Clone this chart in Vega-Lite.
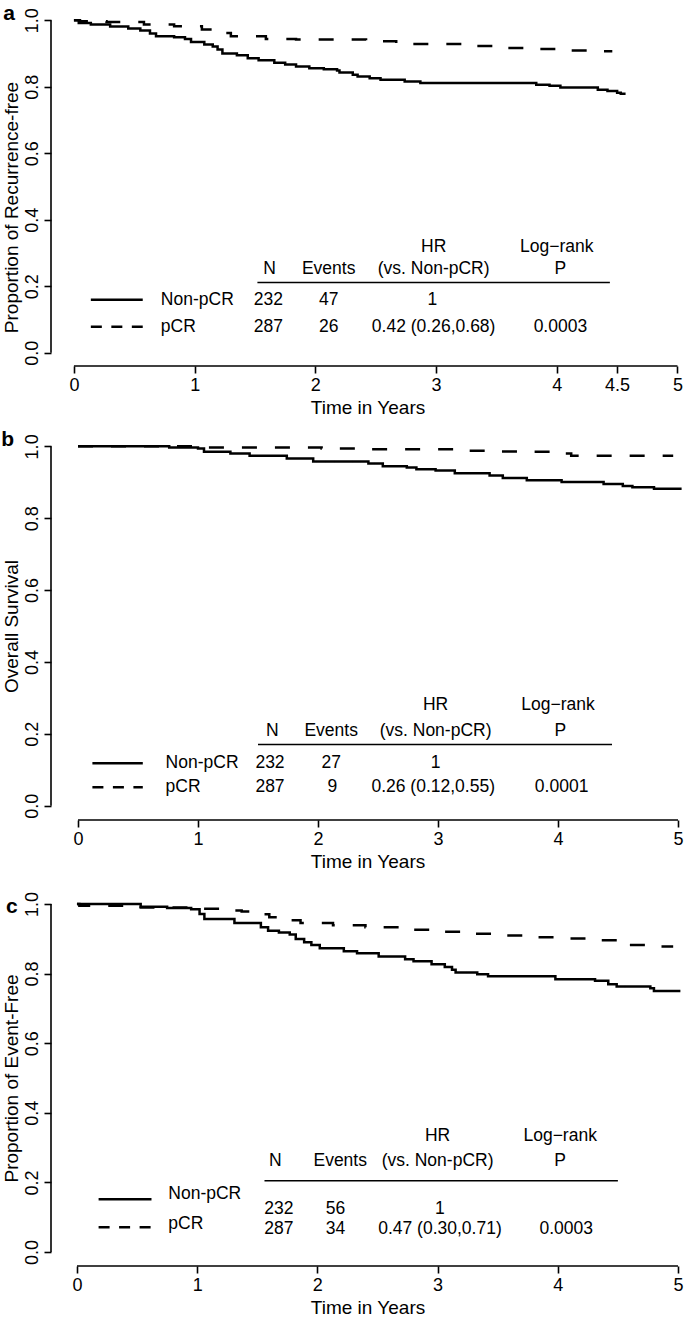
{
  "$schema": "https://vega.github.io/schema/vega-lite/v6.json",
  "padding": {"left": 1, "top": 3, "right": 0, "bottom": 0},
  "config": {
    "view": {"stroke": null},
    "font": "Liberation Sans",
    "text": {"fontSize": 17.5, "color": "black"},
    "axis": {"domain": false, "grid": false, "tickColor": "black", "tickWidth": 1.6, "tickSize": 7, "labelColor": "black", "labelFontSize": 18, "labelPadding": 3, "titleFontSize": 19, "titleFontWeight": "normal", "titleColor": "black"},
    "axisY": {"labelAngle": -90, "labelAlign": "center", "labelBaseline": "bottom", "titlePadding": 1.5},
    "axisX": {"titlePadding": 4}
  },
  "datasets": {
    "km": [
      {"panel":"a","group":"Non-pCR","t":0,"s":1.0},{"panel":"a","group":"Non-pCR","t":0.04,"s":0.992},{"panel":"a","group":"Non-pCR","t":0.14,"s":0.987},{"panel":"a","group":"Non-pCR","t":0.30,"s":0.981},{"panel":"a","group":"Non-pCR","t":0.45,"s":0.975},{"panel":"a","group":"Non-pCR","t":0.55,"s":0.969},{"panel":"a","group":"Non-pCR","t":0.63,"s":0.960},{"panel":"a","group":"Non-pCR","t":0.68,"s":0.952},{"panel":"a","group":"Non-pCR","t":0.83,"s":0.949},{"panel":"a","group":"Non-pCR","t":0.92,"s":0.944},{"panel":"a","group":"Non-pCR","t":0.97,"s":0.935},{"panel":"a","group":"Non-pCR","t":1.08,"s":0.927},{"panel":"a","group":"Non-pCR","t":1.15,"s":0.921},{"panel":"a","group":"Non-pCR","t":1.19,"s":0.912},{"panel":"a","group":"Non-pCR","t":1.23,"s":0.900},{"panel":"a","group":"Non-pCR","t":1.35,"s":0.895},{"panel":"a","group":"Non-pCR","t":1.44,"s":0.886},{"panel":"a","group":"Non-pCR","t":1.53,"s":0.880},{"panel":"a","group":"Non-pCR","t":1.66,"s":0.872},{"panel":"a","group":"Non-pCR","t":1.75,"s":0.867},{"panel":"a","group":"Non-pCR","t":1.84,"s":0.861},{"panel":"a","group":"Non-pCR","t":1.95,"s":0.856},{"panel":"a","group":"Non-pCR","t":2.07,"s":0.853},{"panel":"a","group":"Non-pCR","t":2.18,"s":0.849},{"panel":"a","group":"Non-pCR","t":2.20,"s":0.843},{"panel":"a","group":"Non-pCR","t":2.31,"s":0.836},{"panel":"a","group":"Non-pCR","t":2.35,"s":0.831},{"panel":"a","group":"Non-pCR","t":2.45,"s":0.826},{"panel":"a","group":"Non-pCR","t":2.54,"s":0.821},{"panel":"a","group":"Non-pCR","t":2.74,"s":0.816},{"panel":"a","group":"Non-pCR","t":2.87,"s":0.811},{"panel":"a","group":"Non-pCR","t":3.83,"s":0.806},{"panel":"a","group":"Non-pCR","t":3.94,"s":0.803},{"panel":"a","group":"Non-pCR","t":4.03,"s":0.798},{"panel":"a","group":"Non-pCR","t":4.34,"s":0.791},{"panel":"a","group":"Non-pCR","t":4.42,"s":0.787},{"panel":"a","group":"Non-pCR","t":4.50,"s":0.782},{"panel":"a","group":"Non-pCR","t":4.53,"s":0.779},{"panel":"a","group":"Non-pCR","t":4.57,"s":0.779},
      {"panel":"a","group":"pCR","t":0,"s":1.0},{"panel":"a","group":"pCR","t":0.05,"s":0.997},{"panel":"a","group":"pCR","t":0.27,"s":0.995},{"panel":"a","group":"pCR","t":0.58,"s":0.987},{"panel":"a","group":"pCR","t":0.83,"s":0.982},{"panel":"a","group":"pCR","t":1.06,"s":0.972},{"panel":"a","group":"pCR","t":1.15,"s":0.962},{"panel":"a","group":"pCR","t":1.30,"s":0.952},{"panel":"a","group":"pCR","t":1.59,"s":0.944},{"panel":"a","group":"pCR","t":1.84,"s":0.942},{"panel":"a","group":"pCR","t":2.42,"s":0.937},{"panel":"a","group":"pCR","t":2.67,"s":0.929},{"panel":"a","group":"pCR","t":3.23,"s":0.923},{"panel":"a","group":"pCR","t":3.50,"s":0.917},{"panel":"a","group":"pCR","t":3.75,"s":0.914},{"panel":"a","group":"pCR","t":4.05,"s":0.909},{"panel":"a","group":"pCR","t":4.30,"s":0.907},{"panel":"a","group":"pCR","t":4.46,"s":0.907},
      {"panel":"b","group":"Non-pCR","t":0,"s":1.0},{"panel":"b","group":"Non-pCR","t":0.76,"s":0.997},{"panel":"b","group":"Non-pCR","t":1.00,"s":0.994},{"panel":"b","group":"Non-pCR","t":1.05,"s":0.985},{"panel":"b","group":"Non-pCR","t":1.27,"s":0.980},{"panel":"b","group":"Non-pCR","t":1.43,"s":0.974},{"panel":"b","group":"Non-pCR","t":1.74,"s":0.966},{"panel":"b","group":"Non-pCR","t":1.96,"s":0.958},{"panel":"b","group":"Non-pCR","t":2.42,"s":0.952},{"panel":"b","group":"Non-pCR","t":2.54,"s":0.945},{"panel":"b","group":"Non-pCR","t":2.74,"s":0.941},{"panel":"b","group":"Non-pCR","t":2.82,"s":0.936},{"panel":"b","group":"Non-pCR","t":2.98,"s":0.933},{"panel":"b","group":"Non-pCR","t":3.14,"s":0.925},{"panel":"b","group":"Non-pCR","t":3.43,"s":0.919},{"panel":"b","group":"Non-pCR","t":3.54,"s":0.912},{"panel":"b","group":"Non-pCR","t":3.74,"s":0.906},{"panel":"b","group":"Non-pCR","t":4.03,"s":0.901},{"panel":"b","group":"Non-pCR","t":4.38,"s":0.895},{"panel":"b","group":"Non-pCR","t":4.54,"s":0.890},{"panel":"b","group":"Non-pCR","t":4.62,"s":0.886},{"panel":"b","group":"Non-pCR","t":4.80,"s":0.882},{"panel":"b","group":"Non-pCR","t":5.03,"s":0.882},
      {"panel":"b","group":"pCR","t":0,"s":1.0},{"panel":"b","group":"pCR","t":1.00,"s":0.997},{"panel":"b","group":"pCR","t":2.03,"s":0.994},{"panel":"b","group":"pCR","t":2.31,"s":0.992},{"panel":"b","group":"pCR","t":3.16,"s":0.988},{"panel":"b","group":"pCR","t":3.44,"s":0.986},{"panel":"b","group":"pCR","t":3.73,"s":0.985},{"panel":"b","group":"pCR","t":4.04,"s":0.980},{"panel":"b","group":"pCR","t":4.11,"s":0.974},{"panel":"b","group":"pCR","t":4.96,"s":0.974},
      {"panel":"c","group":"Non-pCR","t":0,"s":1.0},{"panel":"c","group":"Non-pCR","t":0.53,"s":0.992},{"panel":"c","group":"Non-pCR","t":0.75,"s":0.988},{"panel":"c","group":"Non-pCR","t":0.95,"s":0.985},{"panel":"c","group":"Non-pCR","t":1.02,"s":0.971},{"panel":"c","group":"Non-pCR","t":1.06,"s":0.957},{"panel":"c","group":"Non-pCR","t":1.31,"s":0.945},{"panel":"c","group":"Non-pCR","t":1.53,"s":0.933},{"panel":"c","group":"Non-pCR","t":1.59,"s":0.923},{"panel":"c","group":"Non-pCR","t":1.68,"s":0.918},{"panel":"c","group":"Non-pCR","t":1.77,"s":0.912},{"panel":"c","group":"Non-pCR","t":1.82,"s":0.899},{"panel":"c","group":"Non-pCR","t":1.89,"s":0.890},{"panel":"c","group":"Non-pCR","t":1.95,"s":0.882},{"panel":"c","group":"Non-pCR","t":2.02,"s":0.873},{"panel":"c","group":"Non-pCR","t":2.22,"s":0.864},{"panel":"c","group":"Non-pCR","t":2.33,"s":0.858},{"panel":"c","group":"Non-pCR","t":2.51,"s":0.849},{"panel":"c","group":"Non-pCR","t":2.73,"s":0.841},{"panel":"c","group":"Non-pCR","t":2.80,"s":0.835},{"panel":"c","group":"Non-pCR","t":2.95,"s":0.827},{"panel":"c","group":"Non-pCR","t":3.06,"s":0.819},{"panel":"c","group":"Non-pCR","t":3.12,"s":0.811},{"panel":"c","group":"Non-pCR","t":3.15,"s":0.803},{"panel":"c","group":"Non-pCR","t":3.33,"s":0.798},{"panel":"c","group":"Non-pCR","t":3.42,"s":0.792},{"panel":"c","group":"Non-pCR","t":3.98,"s":0.784},{"panel":"c","group":"Non-pCR","t":4.31,"s":0.779},{"panel":"c","group":"Non-pCR","t":4.42,"s":0.769},{"panel":"c","group":"Non-pCR","t":4.49,"s":0.763},{"panel":"c","group":"Non-pCR","t":4.77,"s":0.758},{"panel":"c","group":"Non-pCR","t":4.80,"s":0.750},{"panel":"c","group":"Non-pCR","t":5.02,"s":0.750},
      {"panel":"c","group":"pCR","t":0,"s":1.0},{"panel":"c","group":"pCR","t":0.02,"s":0.995},{"panel":"c","group":"pCR","t":0.51,"s":0.990},{"panel":"c","group":"pCR","t":0.95,"s":0.986},{"panel":"c","group":"pCR","t":1.31,"s":0.981},{"panel":"c","group":"pCR","t":1.37,"s":0.978},{"panel":"c","group":"pCR","t":1.50,"s":0.970},{"panel":"c","group":"pCR","t":1.60,"s":0.962},{"panel":"c","group":"pCR","t":1.75,"s":0.953},{"panel":"c","group":"pCR","t":1.86,"s":0.945},{"panel":"c","group":"pCR","t":2.13,"s":0.939},{"panel":"c","group":"pCR","t":2.40,"s":0.933},{"panel":"c","group":"pCR","t":2.68,"s":0.926},{"panel":"c","group":"pCR","t":2.95,"s":0.920},{"panel":"c","group":"pCR","t":3.20,"s":0.914},{"panel":"c","group":"pCR","t":3.47,"s":0.909},{"panel":"c","group":"pCR","t":3.77,"s":0.904},{"panel":"c","group":"pCR","t":4.04,"s":0.901},{"panel":"c","group":"pCR","t":4.31,"s":0.896},{"panel":"c","group":"pCR","t":4.50,"s":0.888},{"panel":"c","group":"pCR","t":4.56,"s":0.882},{"panel":"c","group":"pCR","t":4.84,"s":0.878},{"panel":"c","group":"pCR","t":4.96,"s":0.878}
    ],
    "tbl": [
      {"panel":"a","group":"Non-pCR","label":"Non-pCR","N":"232","Events":"47","HR":"1","P":""},
      {"panel":"a","group":"pCR","label":"pCR","N":"287","Events":"26","HR":"0.42 (0.26,0.68)","P":"0.0003"},
      {"panel":"b","group":"Non-pCR","label":"Non-pCR","N":"232","Events":"27","HR":"1","P":""},
      {"panel":"b","group":"pCR","label":"pCR","N":"287","Events":"9","HR":"0.26 (0.12,0.55)","P":"0.0001"},
      {"panel":"c","group":"Non-pCR","label":"Non-pCR","N":"232","Events":"56","HR":"1","P":""},
      {"panel":"c","group":"pCR","label":" pCR","N":"287","Events":"34","HR":"0.47 (0.30,0.71)","P":"0.0003"}
    ]
  },
  "bounds": "flush",
  "spacing": 66,
  "vconcat": [
    {
      "width": 633, "height": 359,
      "layer": [
        {"data": {"name": "km"}, "transform": [{"filter": "datum.panel == 'a'"}],
         "mark": {"type": "line", "interpolate": "step-after", "strokeWidth": 2.5, "color": "black"},
         "encoding": {
           "x": {"field": "t", "type": "quantitative", "scale": {"domain": [-0.19, 5.054], "nice": false, "zero": false}, "axis": {"values": [0,1,2,3,4,4.5,5], "format": "~g", "title": "Time in Years"}},
           "y": {"field": "s", "type": "quantitative", "scale": {"domain": [-0.04, 1.04], "nice": false, "zero": false}, "axis": {"values": [0,0.2,0.4,0.6,0.8,1], "format": ".1f", "title": "Proportion of Recurrence-free", "titleY": 200}},
           "strokeDash": {"field": "group", "type": "nominal", "scale": {"domain": ["Non-pCR","pCR"], "range": [[1,0],[15,18]]}, "legend": null}
         }},
        {"data": {"values": [{}]}, "mark": {"type": "rule", "strokeWidth": 1.6, "color": "black"}, "encoding": {"x": {"datum": -0.19}, "y": {"datum": 0}, "y2": {"datum": 1}}},
        {"data": {"values": [{}]}, "mark": {"type": "rule", "strokeWidth": 1.6, "color": "black"}, "encoding": {"x": {"datum": 0}, "x2": {"datum": 5}, "y": {"datum": -0.04}}},
        {"data": {"values": [{}]}, "mark": {"type": "rule", "strokeWidth": 2.5, "color": "black"}, "encoding": {"x": {"datum": 0.14}, "x2": {"datum": 0.57}, "y": {"datum": 0.159}}},
        {"data": {"values": [{}]}, "mark": {"type": "rule", "strokeWidth": 2.5, "color": "black", "strokeDash": [11, 9.5]}, "encoding": {"x": {"datum": 0.14}, "x2": {"datum": 0.57}, "y": {"datum": 0.078}}},
        {"data": {"values": [{}]}, "mark": {"type": "rule", "strokeWidth": 1.5, "color": "black"}, "encoding": {"x": {"datum": 1.52}, "x2": {"datum": 4.44}, "y": {"datum": 0.211}}},
        {"data": {"values": [{}]}, "mark": {"type": "text", "fontSize": 21, "fontWeight": "bold", "baseline": "alphabetic"}, "encoding": {"x": {"datum": -0.538}, "y": {"datum": 1.0}, "text": {"value": "a"}}},
        {"data": {"values": [{}]}, "mark": "text", "encoding": {"x": {"datum": 2.98}, "y": {"datum": 0.319}, "text": {"value": "HR"}}},
        {"data": {"values": [{}]}, "mark": "text", "encoding": {"x": {"datum": 4.0}, "y": {"datum": 0.319}, "text": {"value": "Log−rank"}}},
        {"data": {"values": [{}]}, "mark": "text", "encoding": {"x": {"datum": 1.62}, "y": {"datum": 0.253}, "text": {"value": "N"}}},
        {"data": {"values": [{}]}, "mark": "text", "encoding": {"x": {"datum": 2.11}, "y": {"datum": 0.253}, "text": {"value": "Events"}}},
        {"data": {"values": [{}]}, "mark": "text", "encoding": {"x": {"datum": 2.98}, "y": {"datum": 0.253}, "text": {"value": "(vs. Non-pCR)"}}},
        {"data": {"values": [{}]}, "mark": "text", "encoding": {"x": {"datum": 4.03}, "y": {"datum": 0.253}, "text": {"value": "P"}}},
        {"data": {"name": "tbl"}, "transform": [{"filter": "datum.panel == 'a' && datum.group == 'Non-pCR'"}], "mark": {"type": "text", "align": "left"}, "encoding": {"x": {"datum": 0.72}, "y": {"datum": 0.159}, "text": {"field": "label"}}},
        {"data": {"name": "tbl"}, "transform": [{"filter": "datum.panel == 'a' && datum.group == 'Non-pCR'"}], "mark": "text", "encoding": {"x": {"datum": 1.61}, "y": {"datum": 0.159}, "text": {"field": "N"}}},
        {"data": {"name": "tbl"}, "transform": [{"filter": "datum.panel == 'a' && datum.group == 'Non-pCR'"}], "mark": "text", "encoding": {"x": {"datum": 2.11}, "y": {"datum": 0.159}, "text": {"field": "Events"}}},
        {"data": {"name": "tbl"}, "transform": [{"filter": "datum.panel == 'a' && datum.group == 'Non-pCR'"}], "mark": "text", "encoding": {"x": {"datum": 2.97}, "y": {"datum": 0.159}, "text": {"field": "HR"}}},
        {"data": {"name": "tbl"}, "transform": [{"filter": "datum.panel == 'a' && datum.group == 'pCR'"}], "mark": {"type": "text", "align": "left"}, "encoding": {"x": {"datum": 0.72}, "y": {"datum": 0.078}, "text": {"field": "label"}}},
        {"data": {"name": "tbl"}, "transform": [{"filter": "datum.panel == 'a' && datum.group == 'pCR'"}], "mark": "text", "encoding": {"x": {"datum": 1.61}, "y": {"datum": 0.078}, "text": {"field": "N"}}},
        {"data": {"name": "tbl"}, "transform": [{"filter": "datum.panel == 'a' && datum.group == 'pCR'"}], "mark": "text", "encoding": {"x": {"datum": 2.11}, "y": {"datum": 0.078}, "text": {"field": "Events"}}},
        {"data": {"name": "tbl"}, "transform": [{"filter": "datum.panel == 'a' && datum.group == 'pCR'"}], "mark": "text", "encoding": {"x": {"datum": 2.98}, "y": {"datum": 0.078}, "text": {"field": "HR"}}},
        {"data": {"name": "tbl"}, "transform": [{"filter": "datum.panel == 'a' && datum.group == 'pCR'"}], "mark": "text", "encoding": {"x": {"datum": 4.03}, "y": {"datum": 0.078}, "text": {"field": "P"}}}
      ]
    },
    {
      "bounds": "flush",
      "spacing": 70,
      "vconcat": [
        {
          "width": 633, "height": 388,
          "layer": [
            {"data": {"name": "km"}, "transform": [{"filter": "datum.panel == 'b'"}],
             "mark": {"type": "line", "interpolate": "step-after", "strokeWidth": 2.5, "color": "black"},
             "encoding": {
               "x": {"field": "t", "type": "quantitative", "scale": {"domain": [-0.225, 5.05], "nice": false, "zero": false}, "axis": {"values": [0,1,2,3,4,5], "format": "~g", "title": "Time in Years"}},
               "y": {"field": "s", "type": "quantitative", "scale": {"domain": [-0.04, 1.04], "nice": false, "zero": false}, "axis": {"values": [0,0.2,0.4,0.6,0.8,1], "format": ".1f", "title": "Overall Survival"}},
               "strokeDash": {"field": "group", "type": "nominal", "scale": {"domain": ["Non-pCR","pCR"], "range": [[1,0],[15,18]]}, "legend": null}
             }},
            {"data": {"values": [{}]}, "mark": {"type": "rule", "strokeWidth": 1.6, "color": "black"}, "encoding": {"x": {"datum": -0.225}, "y": {"datum": 0}, "y2": {"datum": 1}}},
            {"data": {"values": [{}]}, "mark": {"type": "rule", "strokeWidth": 1.6, "color": "black"}, "encoding": {"x": {"datum": 0}, "x2": {"datum": 5}, "y": {"datum": -0.04}}},
            {"data": {"values": [{}]}, "mark": {"type": "rule", "strokeWidth": 2.5, "color": "black"}, "encoding": {"x": {"datum": 0.12}, "x2": {"datum": 0.54}, "y": {"datum": 0.118}}},
            {"data": {"values": [{}]}, "mark": {"type": "rule", "strokeWidth": 2.5, "color": "black", "strokeDash": [11, 9.5]}, "encoding": {"x": {"datum": 0.12}, "x2": {"datum": 0.54}, "y": {"datum": 0.051}}},
            {"data": {"values": [{}]}, "mark": {"type": "rule", "strokeWidth": 1.5, "color": "black"}, "encoding": {"x": {"datum": 1.5}, "x2": {"datum": 4.45}, "y": {"datum": 0.170}}},
            {"data": {"values": [{}]}, "mark": {"type": "text", "fontSize": 21, "fontWeight": "bold", "baseline": "alphabetic"}, "encoding": {"x": {"datum": -0.587}, "y": {"datum": 1.0}, "text": {"value": "b"}}},
            {"data": {"values": [{}]}, "mark": "text", "encoding": {"x": {"datum": 2.98}, "y": {"datum": 0.279}, "text": {"value": "HR"}}},
            {"data": {"values": [{}]}, "mark": "text", "encoding": {"x": {"datum": 4.0}, "y": {"datum": 0.279}, "text": {"value": "Log−rank"}}},
            {"data": {"values": [{}]}, "mark": "text", "encoding": {"x": {"datum": 1.62}, "y": {"datum": 0.209}, "text": {"value": "N"}}},
            {"data": {"values": [{}]}, "mark": "text", "encoding": {"x": {"datum": 2.11}, "y": {"datum": 0.209}, "text": {"value": "Events"}}},
            {"data": {"values": [{}]}, "mark": "text", "encoding": {"x": {"datum": 2.98}, "y": {"datum": 0.209}, "text": {"value": "(vs. Non-pCR)"}}},
            {"data": {"values": [{}]}, "mark": "text", "encoding": {"x": {"datum": 4.02}, "y": {"datum": 0.209}, "text": {"value": "P"}}},
            {"data": {"name": "tbl"}, "transform": [{"filter": "datum.panel == 'b' && datum.group == 'Non-pCR'"}], "mark": {"type": "text", "align": "left"}, "encoding": {"x": {"datum": 0.73}, "y": {"datum": 0.118}, "text": {"field": "label"}}},
            {"data": {"name": "tbl"}, "transform": [{"filter": "datum.panel == 'b' && datum.group == 'Non-pCR'"}], "mark": "text", "encoding": {"x": {"datum": 1.6}, "y": {"datum": 0.118}, "text": {"field": "N"}}},
            {"data": {"name": "tbl"}, "transform": [{"filter": "datum.panel == 'b' && datum.group == 'Non-pCR'"}], "mark": "text", "encoding": {"x": {"datum": 2.11}, "y": {"datum": 0.118}, "text": {"field": "Events"}}},
            {"data": {"name": "tbl"}, "transform": [{"filter": "datum.panel == 'b' && datum.group == 'Non-pCR'"}], "mark": "text", "encoding": {"x": {"datum": 2.98}, "y": {"datum": 0.118}, "text": {"field": "HR"}}},
            {"data": {"name": "tbl"}, "transform": [{"filter": "datum.panel == 'b' && datum.group == 'pCR'"}], "mark": {"type": "text", "align": "left"}, "encoding": {"x": {"datum": 0.73}, "y": {"datum": 0.051}, "text": {"field": "label"}}},
            {"data": {"name": "tbl"}, "transform": [{"filter": "datum.panel == 'b' && datum.group == 'pCR'"}], "mark": "text", "encoding": {"x": {"datum": 1.6}, "y": {"datum": 0.051}, "text": {"field": "N"}}},
            {"data": {"name": "tbl"}, "transform": [{"filter": "datum.panel == 'b' && datum.group == 'pCR'"}], "mark": "text", "encoding": {"x": {"datum": 2.12}, "y": {"datum": 0.051}, "text": {"field": "Events"}}},
            {"data": {"name": "tbl"}, "transform": [{"filter": "datum.panel == 'b' && datum.group == 'pCR'"}], "mark": "text", "encoding": {"x": {"datum": 2.96}, "y": {"datum": 0.051}, "text": {"field": "HR"}}},
            {"data": {"name": "tbl"}, "transform": [{"filter": "datum.panel == 'b' && datum.group == 'pCR'"}], "mark": "text", "encoding": {"x": {"datum": 4.03}, "y": {"datum": 0.051}, "text": {"field": "P"}}}
          ]
        },
        {
          "width": 633, "height": 376,
          "layer": [
            {"data": {"name": "km"}, "transform": [{"filter": "datum.panel == 'c'"}],
             "mark": {"type": "line", "interpolate": "step-after", "strokeWidth": 2.5, "color": "black"},
             "encoding": {
               "x": {"field": "t", "type": "quantitative", "scale": {"domain": [-0.216, 5.05], "nice": false, "zero": false}, "axis": {"values": [0,1,2,3,4,5], "format": "~g", "title": "Time in Years"}},
               "y": {"field": "s", "type": "quantitative", "scale": {"domain": [-0.04, 1.04], "nice": false, "zero": false}, "axis": {"values": [0,0.2,0.4,0.6,0.8,1], "format": ".1f", "title": "Proportion of Event-Free"}},
               "strokeDash": {"field": "group", "type": "nominal", "scale": {"domain": ["Non-pCR","pCR"], "range": [[1,0],[15,18]]}, "legend": null}
             }},
            {"data": {"values": [{}]}, "mark": {"type": "rule", "strokeWidth": 1.6, "color": "black"}, "encoding": {"x": {"datum": -0.216}, "y": {"datum": 0}, "y2": {"datum": 1}}},
            {"data": {"values": [{}]}, "mark": {"type": "rule", "strokeWidth": 1.6, "color": "black"}, "encoding": {"x": {"datum": 0}, "x2": {"datum": 5}, "y": {"datum": -0.04}}},
            {"data": {"values": [{}]}, "mark": {"type": "rule", "strokeWidth": 2.5, "color": "black"}, "encoding": {"x": {"datum": 0.18}, "x2": {"datum": 0.62}, "y": {"datum": 0.152}}},
            {"data": {"values": [{}]}, "mark": {"type": "rule", "strokeWidth": 2.5, "color": "black", "strokeDash": [11, 9.5]}, "encoding": {"x": {"datum": 0.18}, "x2": {"datum": 0.62}, "y": {"datum": 0.071}}},
            {"data": {"values": [{}]}, "mark": {"type": "rule", "strokeWidth": 1.5, "color": "black"}, "encoding": {"x": {"datum": 1.56}, "x2": {"datum": 4.5}, "y": {"datum": 0.205}}},
            {"data": {"values": [{}]}, "mark": {"type": "text", "fontSize": 21, "fontWeight": "bold", "baseline": "alphabetic"}, "encoding": {"x": {"datum": -0.541}, "y": {"datum": 0.975}, "text": {"value": "c"}}},
            {"data": {"values": [{}]}, "mark": "text", "encoding": {"x": {"datum": 3.0}, "y": {"datum": 0.334}, "text": {"value": "HR"}}},
            {"data": {"values": [{}]}, "mark": "text", "encoding": {"x": {"datum": 4.02}, "y": {"datum": 0.334}, "text": {"value": "Log−rank"}}},
            {"data": {"values": [{}]}, "mark": "text", "encoding": {"x": {"datum": 1.65}, "y": {"datum": 0.262}, "text": {"value": "N"}}},
            {"data": {"values": [{}]}, "mark": "text", "encoding": {"x": {"datum": 2.19}, "y": {"datum": 0.262}, "text": {"value": "Events"}}},
            {"data": {"values": [{}]}, "mark": "text", "encoding": {"x": {"datum": 3.0}, "y": {"datum": 0.262}, "text": {"value": "(vs. Non-pCR)"}}},
            {"data": {"values": [{}]}, "mark": "text", "encoding": {"x": {"datum": 4.02}, "y": {"datum": 0.262}, "text": {"value": "P"}}},
            {"data": {"name": "tbl"}, "transform": [{"filter": "datum.panel == 'c' && datum.group == 'Non-pCR'"}], "mark": {"type": "text", "align": "left"}, "encoding": {"x": {"datum": 0.76}, "y": {"datum": 0.167}, "text": {"field": "label"}}},
            {"data": {"name": "tbl"}, "transform": [{"filter": "datum.panel == 'c' && datum.group == 'Non-pCR'"}], "mark": "text", "encoding": {"x": {"datum": 1.68}, "y": {"datum": 0.124}, "text": {"field": "N"}}},
            {"data": {"name": "tbl"}, "transform": [{"filter": "datum.panel == 'c' && datum.group == 'Non-pCR'"}], "mark": "text", "encoding": {"x": {"datum": 2.15}, "y": {"datum": 0.124}, "text": {"field": "Events"}}},
            {"data": {"name": "tbl"}, "transform": [{"filter": "datum.panel == 'c' && datum.group == 'Non-pCR'"}], "mark": "text", "encoding": {"x": {"datum": 3.02}, "y": {"datum": 0.124}, "text": {"field": "HR"}}},
            {"data": {"name": "tbl"}, "transform": [{"filter": "datum.panel == 'c' && datum.group == 'pCR'"}], "mark": {"type": "text", "align": "left"}, "encoding": {"x": {"datum": 0.76}, "y": {"datum": 0.081}, "text": {"field": "label"}}},
            {"data": {"name": "tbl"}, "transform": [{"filter": "datum.panel == 'c' && datum.group == 'pCR'"}], "mark": "text", "encoding": {"x": {"datum": 1.68}, "y": {"datum": 0.067}, "text": {"field": "N"}}},
            {"data": {"name": "tbl"}, "transform": [{"filter": "datum.panel == 'c' && datum.group == 'pCR'"}], "mark": "text", "encoding": {"x": {"datum": 2.15}, "y": {"datum": 0.067}, "text": {"field": "Events"}}},
            {"data": {"name": "tbl"}, "transform": [{"filter": "datum.panel == 'c' && datum.group == 'pCR'"}], "mark": "text", "encoding": {"x": {"datum": 3.02}, "y": {"datum": 0.067}, "text": {"field": "HR"}}},
            {"data": {"name": "tbl"}, "transform": [{"filter": "datum.panel == 'c' && datum.group == 'pCR'"}], "mark": "text", "encoding": {"x": {"datum": 4.07}, "y": {"datum": 0.067}, "text": {"field": "P"}}}
          ]
        }
      ]
    }
  ]
}
